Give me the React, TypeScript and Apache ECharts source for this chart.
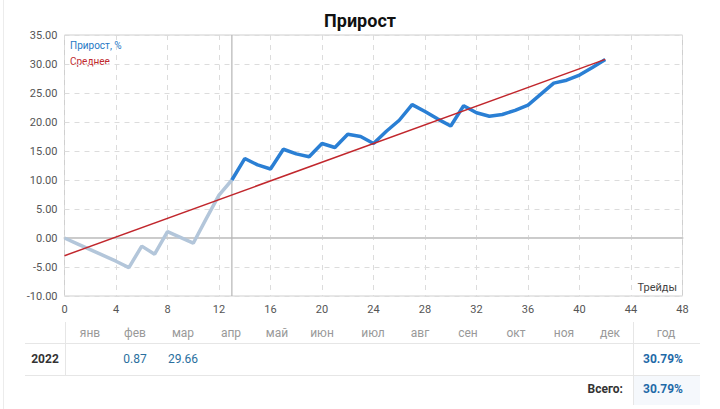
import React, { useEffect, useRef } from "react";
import * as echarts from "echarts";

const trades: number[] = Array.from({ length: 43 }, (_, i) => i);
const growth: number[] = [
  0, -1.0, -2.0, -3.0, -4.0, -5.1, -1.4, -2.8, 1.1, 0.1, -0.9, 3.3, 7.4, 10.0,
  13.7, 12.6, 11.9, 15.3, 14.5, 14.0, 16.3, 15.6, 17.9, 17.5, 16.3, 18.4, 20.3,
  23.0, 21.8, 20.5, 19.3, 22.8, 21.6, 21.0, 21.3, 22.0, 22.9, 24.8, 26.7, 27.2,
  28.1, 29.4, 30.79,
];
const splitTrade = 13;
const averageStart = -3.05;
const averageEnd = 30.79;
const months = ["янв", "фев", "мар", "апр", "май", "июн", "июл", "авг", "сен", "окт", "ноя", "дек"];
const monthValues: (string | null)[] = [null, "0.87", "29.66", null, null, null, null, null, null, null, null, null];
const yearLabel = "2022";
const yearTotal = "30.79%";
const grandTotal = "30.79%";

const monthX = [90, 135, 183, 231, 277, 322, 373, 420, 468, 516, 564, 610];

export default function App() {
  const ref = useRef<HTMLDivElement>(null);
  useEffect(() => {
    if (!ref.current) return;
    const chart = echarts.init(ref.current, null, { renderer: "svg" });
    const font = "Roboto, 'Noto Sans', sans-serif";
    const grayData = trades.slice(0, splitTrade + 1).map((t, i) => [t, growth[i]]);
    const blueData = trades.slice(splitTrade).map((t, i) => [t, growth[i + splitTrade]]);
    const lastT = trades[trades.length - 1];

    const graphics: any[] = [
      { type: "line", shape: { x1: 3.5, y1: 0, x2: 3.5, y2: 409 }, style: { stroke: "#ececec", lineWidth: 1 } },
      { type: "text", x: 70, y: 45, style: { text: "Прирост, %", fill: "#2678c4", font: `10px ${font}`, textVerticalAlign: "middle" } },
      { type: "text", x: 70, y: 61, style: { text: "Среднее", fill: "#c0282e", font: `10px ${font}`, textVerticalAlign: "middle" } },
      // table lines
      { type: "rect", shape: { x: 633, y: 376, width: 67, height: 29 }, style: { fill: "#f5f8fc" } },
      { type: "line", shape: { x1: 25, y1: 343.5, x2: 700, y2: 343.5 }, style: { stroke: "#e6e6e6", lineWidth: 1 } },
      { type: "line", shape: { x1: 25, y1: 375.5, x2: 700, y2: 375.5 }, style: { stroke: "#e6e6e6", lineWidth: 1 } },
      { type: "line", shape: { x1: 65.5, y1: 322, x2: 65.5, y2: 376 }, style: { stroke: "#e6e6e6", lineWidth: 1 } },
      { type: "line", shape: { x1: 633.5, y1: 322, x2: 633.5, y2: 405 }, style: { stroke: "#e6e6e6", lineWidth: 1 } },
      { type: "text", x: 666, y: 333, style: { text: "год", fill: "#999", font: `12px ${font}`, textAlign: "center", textVerticalAlign: "middle" } },
      { type: "text", x: 45, y: 359, style: { text: yearLabel, fill: "#333", font: `bold 12px ${font}`, textAlign: "center", textVerticalAlign: "middle" } },
      { type: "text", x: 663, y: 359, style: { text: yearTotal, fill: "#1f6aa8", font: `bold 12px ${font}`, textAlign: "center", textVerticalAlign: "middle" } },
      { type: "text", x: 623, y: 389, style: { text: "Всего:", fill: "#333", font: `bold 12px ${font}`, textAlign: "right", textVerticalAlign: "middle" } },
      { type: "text", x: 663, y: 389, style: { text: grandTotal, fill: "#1f6aa8", font: `bold 12px ${font}`, textAlign: "center", textVerticalAlign: "middle" } },
    ];
    months.forEach((m, i) => {
      graphics.push({ type: "text", x: monthX[i], y: 333, style: { text: m, fill: "#999", font: `12px ${font}`, textAlign: "center", textVerticalAlign: "middle" } });
      const v = monthValues[i];
      if (v) {
        graphics.push({ type: "text", x: monthX[i], y: 359, style: { text: v, fill: "#2a6f9e", font: `12px ${font}`, textAlign: "center", textVerticalAlign: "middle" } });
      }
    });

    chart.setOption({
      animation: false,
      title: {
        text: "Прирост",
        left: "center",
        top: 6,
        textStyle: { fontFamily: font, fontSize: 18, fontWeight: "bold", color: "#111" },
      },
      grid: { left: 64.5, right: 37.5, top: 35, bottom: 113, show: true, borderColor: "#cfcfcf", borderWidth: 1 },
      xAxis: {
        type: "value",
        min: 0,
        max: 48,
        interval: 4,
        axisLine: { show: true, lineStyle: { color: "#c8c8c8", width: 2 } },
        axisTick: { show: false },
        axisLabel: { color: "#555", fontSize: 11, fontFamily: font, margin: 8 },
        splitLine: { show: true, lineStyle: { color: "#dcdcdc", type: [5, 5] } },
      },
      yAxis: {
        type: "value",
        min: -10,
        max: 35,
        interval: 5,
        axisLine: { show: false },
        axisTick: { show: false },
        axisLabel: { color: "#555", fontSize: 11, fontFamily: font, margin: 7, formatter: (v: number) => v.toFixed(2) },
        splitLine: { show: true, lineStyle: { color: "#dcdcdc", type: [5, 5] } },
      },
      graphic: graphics,
      series: [
        {
          type: "line",
          data: [[0, 0], [48, 0]],
          symbol: "none",
          silent: true,
          lineStyle: { color: "#cfcfcf", width: 1 },
          z: 1,
        },
        {
          type: "line",
          data: [[splitTrade, -10], [splitTrade, 35]],
          symbol: "none",
          silent: true,
          lineStyle: { color: "#b5b5b5", width: 1.2 },
          z: 1,
        },
        {
          type: "line",
          data: grayData,
          symbol: "none",
          lineStyle: { color: "#b3c6da", width: 3.5 },
          z: 3,
        },
        {
          type: "line",
          data: blueData,
          symbol: "none",
          lineStyle: { color: "#2a7fd4", width: 3.5 },
          z: 3,
        },
        {
          type: "line",
          data: [[0, averageStart], [lastT, averageEnd]],
          symbol: "none",
          lineStyle: { color: "#c1272d", width: 1.5 },
          z: 4,
        },
      ],
    });
    chart.setOption({
      graphic: [
        ...graphics,
        { type: "text", x: 677, y: 287, style: { text: "Трейды", fill: "#444", font: `11px ${font}`, textAlign: "right", textVerticalAlign: "middle" } },
      ],
    });
    return () => chart.dispose();
  }, []);
  return <div ref={ref} style={{ position: "fixed", left: 0, top: 0, width: 720, height: 409, background: "#fff" }} />;
}
